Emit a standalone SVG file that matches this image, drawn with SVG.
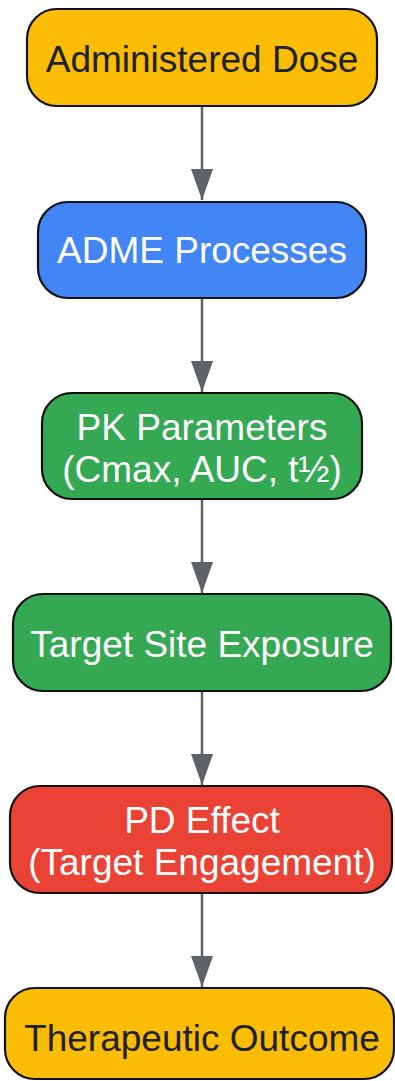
<svg xmlns="http://www.w3.org/2000/svg" width="395" height="1081" viewBox="0 0 395 1081">
<defs>
<style>
.box{stroke:#111;stroke-width:2.2}
.t{font-family:"Liberation Sans",Arial,sans-serif;font-size:37px;text-anchor:middle}
.dark{fill:#202124}
.light{fill:#ffffff}
.edge{stroke:#5f6368;stroke-width:2.5;fill:none}
</style>
<marker id="ah" markerWidth="31" markerHeight="22" refX="31" refY="11" orient="auto" markerUnits="userSpaceOnUse" viewBox="0 0 31 22">
<path d="M0,0 L31,11 L0,22 z" fill="#5f6368"/>
</marker>
</defs>
<rect width="395" height="1081" fill="#ffffff"/>
<g id="connectors">
<line class="edge" x1="202" y1="106" x2="202" y2="200" marker-end="url(#ah)"/>
<line class="edge" x1="202" y1="298" x2="202" y2="392" marker-end="url(#ah)"/>
<line class="edge" x1="202" y1="499" x2="202" y2="593" marker-end="url(#ah)"/>
<line class="edge" x1="202" y1="691" x2="202" y2="785" marker-end="url(#ah)"/>
<line class="edge" x1="202" y1="893" x2="202" y2="987" marker-end="url(#ah)"/>
</g>
<g id="node-dose">
<rect class="box" x="27" y="9" width="350" height="97" rx="30" fill="#fbbc04"/>
<text class="t dark" x="202" y="72">Administered Dose</text>
</g>
<g id="node-adme">
<rect class="box" x="38" y="202" width="328" height="96" rx="30" fill="#4285f4"/>
<text class="t light" x="202" y="263">ADME Processes</text>
</g>
<g id="node-pk">
<rect class="box" x="42" y="393" width="320" height="106" rx="30" fill="#34a853"/>
<text class="t light" x="202" y="440">PK Parameters</text>
<text class="t light" x="202" y="482">(Cmax, AUC, t½)</text>
</g>
<g id="node-exposure">
<rect class="box" x="13" y="594" width="378" height="97" rx="30" fill="#34a853"/>
<text class="t light" x="202" y="657">Target Site Exposure</text>
</g>
<g id="node-pd">
<rect class="box" x="10" y="786" width="382" height="107" rx="30" fill="#ea4335"/>
<text class="t light" x="202" y="833">PD Effect</text>
<text class="t light" x="202" y="875">(Target Engagement)</text>
</g>
<g id="node-outcome">
<rect class="box" x="5" y="988" width="389" height="91" rx="30" fill="#fbbc04"/>
<text class="t dark" x="202" y="1051">Therapeutic Outcome</text>
</g>
</svg>
